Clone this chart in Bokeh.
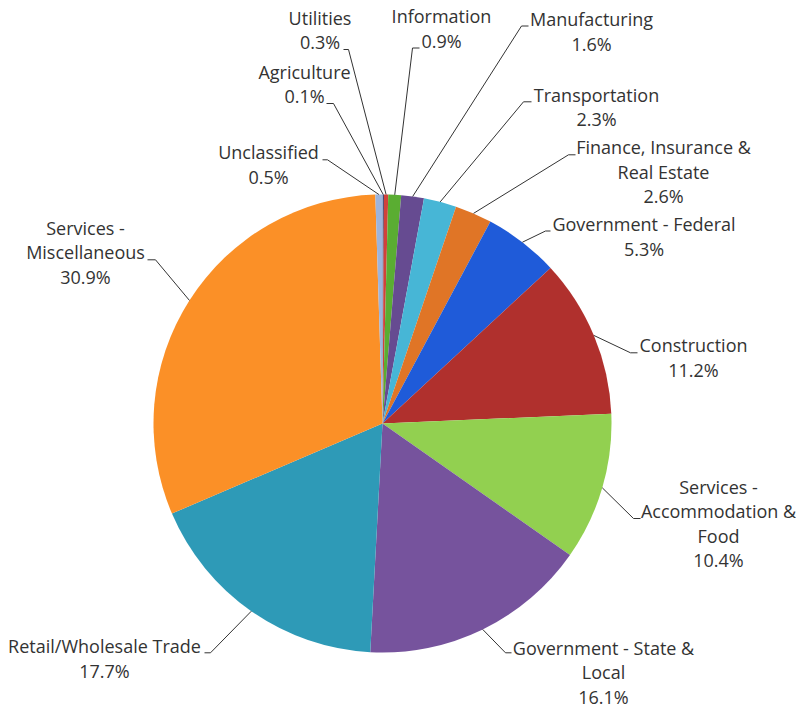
import math
from bokeh.plotting import figure
from bokeh.models import Range1d
from bokeh.embed import file_html
from bokeh.resources import INLINE
from bokeh.core.properties import value

# ---- data ----
categories = ["Agriculture", "Utilities", "Information", "Manufacturing",
              "Transportation", "Finance, Insurance & Real Estate",
              "Government - Federal", "Construction",
              "Services - Accommodation & Food", "Government - State & Local",
              "Retail/Wholesale Trade", "Services - Miscellaneous", "Unclassified"]
shares = [0.1, 0.3, 0.9, 1.6, 2.3, 2.6, 5.3, 11.2, 10.4, 16.1, 17.7, 30.9, 0.5]
label_wrap = [["Agriculture"], ["Utilities"], ["Information"], ["Manufacturing"],
              ["Transportation"], ["Finance, Insurance &", "Real Estate"],
              ["Government - Federal"], ["Construction"],
              ["Services -", "Accommodation &", "Food"],
              ["Government - State &", "Local"], ["Retail/Wholesale Trade"],
              ["Services -", "Miscellaneous"], ["Unclassified"]]

# ---- styles / layout (picture pixel coordinates) ----
colors = ["#2f3f6f", "#d1413b", "#5aad32", "#664b91", "#47b6d6", "#e07526",
          "#1f5bd9", "#b0302d", "#92d050", "#76539d", "#2e9ab7", "#fb9027",
          "#9db4dc"]
# text centre x, first baseline y, elbow x, elbow y, tick end x
layout = [
    (304, 78.5, 333, 103, 326),
    (319.5, 24.5, 348, 49, 343),
    (441, 23.3, 412, 47.5, 419),
    (591, 26, 521, 25.5, 528),
    (596, 101.5, 523, 101.3, 531),
    (663, 154.3, 568, 154.3, 575),
    (643.5, 231, 545, 230.5, 550),
    (693, 352.3, 630, 352.3, 637),
    (718, 493.5, 633, 518, 640),
    (603, 654.5, 505, 652.3, 511),
    (104, 653, 210, 652.3, 204),
    (85, 234.8, 155, 259.3, 147),
    (268, 159.3, 327, 159.3, 322),
]
TEXT_SHIFT = -7.5
CX, CY, R = 382, 423, 229
LINE_H = 24.5
W, H = 796, 711


def fy(y):
    return H - y


p = figure(width=W, height=H, x_range=Range1d(0, W), y_range=Range1d(0, H),
           x_axis_type=None, y_axis_type=None, toolbar_location=None,
           output_backend="svg", min_border=0)
p.outline_line_color = None
p.grid.visible = False

total = sum(shares)
starts, ends, mids = [], [], []
acc = 0.0
for s in shares:
    a0 = acc / total
    acc += s
    a1 = acc / total
    starts.append(math.pi / 2 - 2 * math.pi * a0)
    ends.append(math.pi / 2 - 2 * math.pi * a1)
    mids.append(2 * math.pi * (a0 + a1) / 2)

p.wedge(x=[CX] * len(shares), y=[fy(CY)] * len(shares), radius=R,
        start_angle=starts, end_angle=ends, direction="clock",
        fill_color=colors, line_color=None)

xs, ys = [], []
tx, ty, tt = [], [], []
for i, s in enumerate(shares):
    cx, b1, ex, ey, te = layout[i]
    px = CX + R * math.sin(mids[i])
    py = CY - R * math.cos(mids[i])
    xs.append([px, ex, te])
    ys.append([fy(py), fy(ey), fy(ey)])
    lines = label_wrap[i] + [f"{s}%"]
    for k, ln in enumerate(lines):
        tx.append(cx)
        ty.append(fy(b1 + TEXT_SHIFT + k * LINE_H))
        tt.append(ln)

p.multi_line(xs, ys, line_color="#333333", line_width=1)
p.text(tx, ty, text=tt, text_align="center", text_baseline="alphabetic",
       text_font=value("Open Sans"), text_font_size="18px", text_color="#333333")

open("out.html", "w").write(file_html(p, INLINE))
